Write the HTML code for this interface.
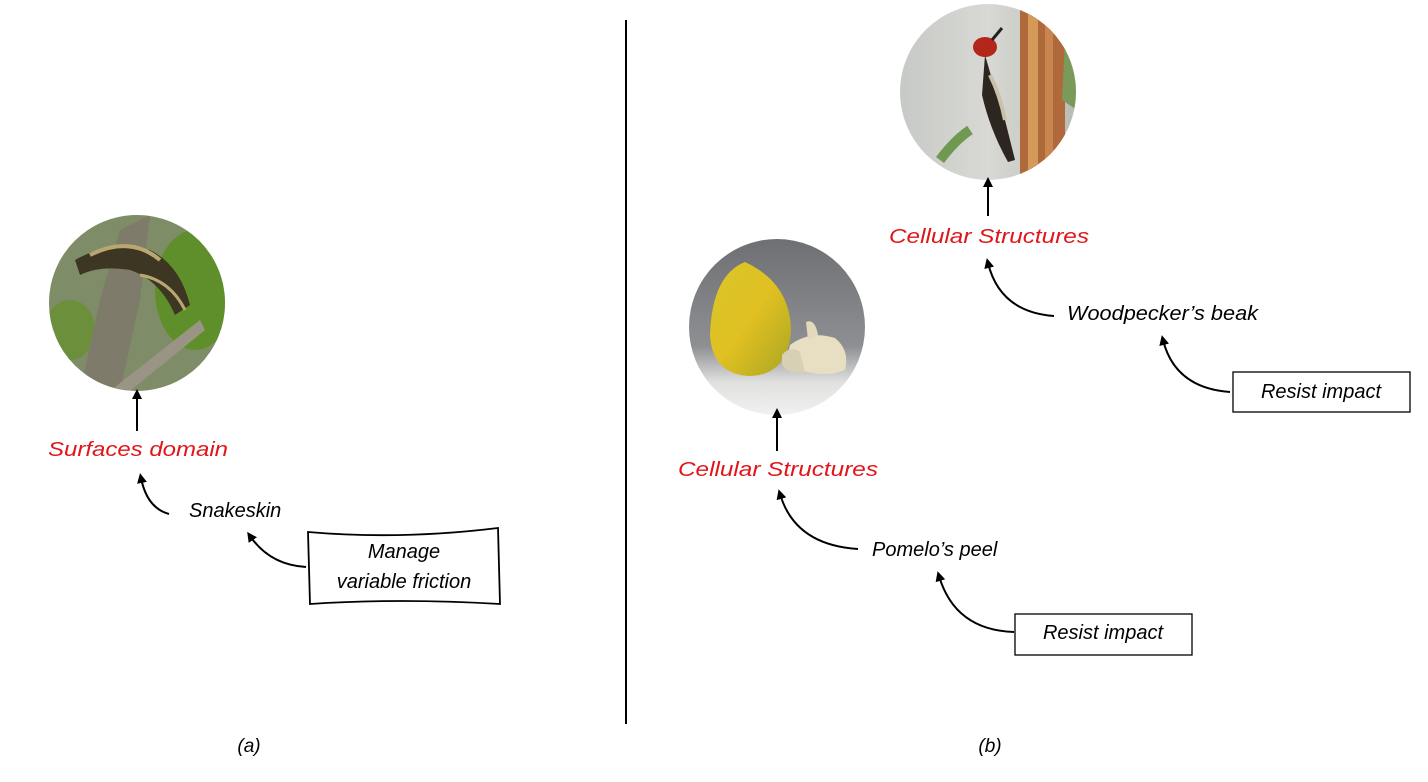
<!DOCTYPE html>
<html><head><meta charset="utf-8"><style>
html,body{margin:0;padding:0;background:#fff;}
svg{display:block;}
text{font-family:"Liberation Sans",sans-serif;font-style:italic;}
</style></head><body>
<svg width="1428" height="782" viewBox="0 0 1428 782" xmlns="http://www.w3.org/2000/svg">
<defs>
<marker id="ah" markerWidth="10" markerHeight="10" refX="5" refY="5" orient="auto" markerUnits="userSpaceOnUse">
<path d="M0,0 L10,5 L0,10 z" fill="#000"/></marker>
<clipPath id="c1"><circle cx="137" cy="303" r="88"/></clipPath>
<clipPath id="c2"><circle cx="777" cy="327" r="88"/></clipPath>
<clipPath id="c3"><circle cx="988" cy="92" r="88"/></clipPath>
<linearGradient id="pb" x1="0" y1="0" x2="0" y2="1"><stop offset="0" stop-color="#6d6f73"/><stop offset="0.6" stop-color="#8d8f92"/><stop offset="0.8" stop-color="#e0e0df"/><stop offset="1" stop-color="#f2f2f2"/></linearGradient>
<linearGradient id="fy" x1="0" y1="0" x2="1" y2="1"><stop offset="0" stop-color="#d9c62a"/><stop offset="0.5" stop-color="#e0c022"/><stop offset="1" stop-color="#a9a623"/></linearGradient>
<linearGradient id="wb" x1="0" y1="0" x2="1" y2="0"><stop offset="0" stop-color="#c7c9c6"/><stop offset="0.5" stop-color="#d8d9d4"/><stop offset="1" stop-color="#b8bbb4"/></linearGradient>
</defs>

<g clip-path="url(#c1)">
<rect x="49" y="215" width="176" height="176" fill="#6a7a4a"/>
<rect x="49" y="215" width="176" height="176" fill="#a6b0a0" opacity="0.35"/>
<ellipse cx="195" cy="290" rx="40" ry="60" fill="#5f8f2a"/>
<ellipse cx="70" cy="330" rx="25" ry="30" fill="#6b8f3a"/>
<path d="M80,391 L100,300 L120,230 L150,215 L140,300 L120,391 z" fill="#7f7b6b"/>
<path d="M110,391 L200,320 L205,330 L130,391 z" fill="#9a9484"/>
<path d="M75,260 Q110,240 150,250 Q180,265 190,305 L175,315 Q160,280 130,270 Q100,265 80,275 z" fill="#3d3622"/>
<path d="M90,255 Q130,235 160,260" stroke="#b9a771" stroke-width="4" fill="none"/>
<path d="M140,275 Q170,280 185,310" stroke="#b9a771" stroke-width="3" fill="none"/>
</g>

<g clip-path="url(#c2)">
<rect x="688" y="238" width="180" height="180" fill="url(#pb)"/>
<path d="M745,262 Q712,275 710,335 Q712,373 748,376 Q788,376 791,330 Q790,283 745,262 z" fill="url(#fy)"/>
<path d="M790,345 Q810,330 835,338 Q850,350 845,370 Q825,378 800,370 Q785,362 790,345 z" fill="#e8dfc2"/>
<path d="M782,355 Q790,345 800,352 L805,372 Q790,375 782,365 z" fill="#d8d0b4"/>
<path d="M806,322 Q815,318 818,335 L808,340 z" fill="#e3dabd"/>
</g>

<g clip-path="url(#c3)">
<rect x="899" y="3" width="178" height="178" fill="url(#wb)"/>
<rect x="1020" y="10" width="45" height="175" fill="#b0693a"/>
<rect x="1028" y="10" width="10" height="175" fill="#d39a5a"/>
<rect x="1045" y="10" width="8" height="175" fill="#c88550"/>
<path d="M1065,40 L1077,40 L1077,110 L1062,100 z" fill="#7a9a5a"/>
<path d="M940,160 Q955,140 970,130" stroke="#6f9950" stroke-width="10" fill="none"/>
<path d="M985,55 Q995,90 1005,120 L1015,160 L1008,162 Q990,130 982,95 z" fill="#2d2620"/>
<ellipse cx="985" cy="47" rx="12" ry="10" fill="#b3271a"/>
<path d="M992,40 L1002,28" stroke="#222" stroke-width="3"/>
<path d="M990,75 Q1000,95 1005,120" stroke="#c9c2a8" stroke-width="4" fill="none"/>
</g>

<line x1="626" y1="20" x2="626" y2="724" stroke="#000" stroke-width="2"/>

<line x1="137" y1="431" x2="137" y2="394" stroke="#000" stroke-width="2" marker-end="url(#ah)"/>
<path d="M169,514 Q147,508 141,478" stroke="#000" stroke-width="2" fill="none" marker-end="url(#ah)"/>
<path d="M306,567 Q270,565 250,536" stroke="#000" stroke-width="2" fill="none" marker-end="url(#ah)"/>

<line x1="777" y1="451" x2="777" y2="413" stroke="#000" stroke-width="2" marker-end="url(#ah)"/>
<path d="M858,549 Q795,545 780,494" stroke="#000" stroke-width="2" fill="none" marker-end="url(#ah)"/>
<path d="M1014,632 Q955,630 939,576" stroke="#000" stroke-width="2" fill="none" marker-end="url(#ah)"/>
<line x1="988" y1="216" x2="988" y2="182" stroke="#000" stroke-width="2" marker-end="url(#ah)"/>
<path d="M1054,316 Q1000,312 988,263" stroke="#000" stroke-width="2" fill="none" marker-end="url(#ah)"/>
<path d="M1230,392 Q1175,388 1163,340" stroke="#000" stroke-width="2" fill="none" marker-end="url(#ah)"/>

<path d="M308,532 Q400,540 498,528 L500,604 Q400,598 310,604 z" fill="#fff" stroke="#000" stroke-width="1.8"/>
<rect x="1015" y="614" width="177" height="41" fill="#fff" stroke="#000" stroke-width="1.3"/>
<rect x="1233" y="372" width="177" height="40" fill="#fff" stroke="#000" stroke-width="1.3"/>

<g font-size="20">
<text x="48" y="456" fill="#e0161b" textLength="180" lengthAdjust="spacingAndGlyphs">Surfaces domain</text>
<text x="189" y="517" fill="#000">Snakeskin</text>
<text x="404" y="558" text-anchor="middle" fill="#000">Manage</text>
<text x="404" y="588" text-anchor="middle" fill="#000">variable friction</text>
<text x="678" y="476" fill="#e0161b" textLength="200" lengthAdjust="spacingAndGlyphs">Cellular Structures</text>
<text x="872" y="556" fill="#000">Pomelo’s peel</text>
<text x="1103" y="639" text-anchor="middle" fill="#000">Resist impact</text>
<text x="889" y="243" fill="#e0161b" textLength="200" lengthAdjust="spacingAndGlyphs">Cellular Structures</text>
<text x="1067" y="320" fill="#000" textLength="191" lengthAdjust="spacingAndGlyphs">Woodpecker’s beak</text>
<text x="1321" y="398" text-anchor="middle" fill="#000">Resist impact</text>
<text x="249" y="752" text-anchor="middle" fill="#000" font-size="19">(a)</text>
<text x="990" y="752" text-anchor="middle" fill="#000" font-size="19">(b)</text>
</g>
</svg>
</body></html>
